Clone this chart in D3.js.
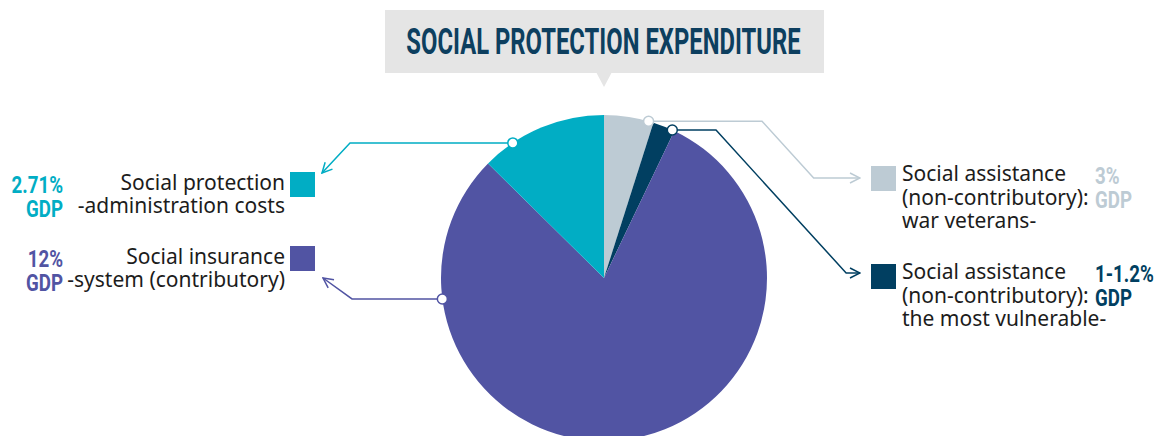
<!DOCTYPE html>
<html>
<head>
<meta charset="utf-8">
<script src="https://cdn.jsdelivr.net/npm/d3@7"></script>
<style>
  body { margin: 0; background: #fff; }
  svg { display: block; }
</style>
</head>
<body>
<svg id="chart"></svg>
<script>
const title = "SOCIAL PROTECTION EXPENDITURE";

// slices in clockwise order from 12 o'clock
const sliceNames = ["veterans", "vulnerable", "insurance", "administration"];
const sliceShares = [4.9, 2.2, 80.3, 12.6];
const gdpLines = [["3%", "GDP"], ["1-1.2%", "GDP"], ["12%", "GDP"], ["2.71%", "GDP"]];
const labelLines = [
    ["Social assistance", "(non-contributory):", "war veterans-"],
    ["Social assistance", "(non-contributory):", "the most vulnerable-"],
    ["Social insurance", "-system (contributory)"],
    ["Social protection", "-administration costs"]
];
const sliceColors = ["#bdcbd4", "#013f61", "#5154a3", "#01adc4"];

const width = 1173, height = 436;
const cx = 604, cy = 278, radius = 163;

// where each leader leaves the rim (fraction of slice), and its route
const leaders = [
    { at: 0.9,  elbowX: 762, tipX: 860, tipY: 178, side: "right" },
    { at: 0.9,  elbowX: 716, tipX: 860, tipY: 273, side: "right" },
    { at: 0.82, elbowX: 352, tipX: 323, tipY: 278, side: "left" },
    { at: 0.25, elbowX: 350, tipX: 322, tipY: 173, side: "left" }
];
const legendBoxes = [
    { x: 871, y: 166 }, { x: 871, y: 264 }, { x: 290, y: 246 }, { x: 290, y: 172 }
];

const svg = d3.select("#chart")
    .attr("width", width)
    .attr("height", height);

const defs = svg.append("defs");
sliceColors.forEach((c, i) => {
    defs.append("marker")
        .attr("id", "arrow" + i)
        .attr("viewBox", "0 0 12 12")
        .attr("refX", 11).attr("refY", 6)
        .attr("markerWidth", 12).attr("markerHeight", 12)
        .attr("markerUnits", "userSpaceOnUse")
        .attr("orient", "auto")
        .append("path")
        .attr("d", "M1,1 L11,6 L1,11")
        .attr("fill", "none")
        .attr("stroke", c)
        .attr("stroke-width", 1.5);
});

function condensed(parent, x, y, text, size, color, anchor, squeeze) {
    return parent.append("text")
        .attr("transform", `translate(${x},${y}) scale(${squeeze},1)`)
        .attr("text-anchor", anchor)
        .attr("font-family", "Roboto")
        .attr("font-weight", 700)
        .attr("font-size", size)
        .attr("fill", color)
        .text(text);
}

// title callout
svg.append("rect")
    .attr("x", 385).attr("y", 10)
    .attr("width", 439).attr("height", 63)
    .attr("fill", "#e5e5e5");
svg.append("path")
    .attr("d", `M${cx - 8},72 L${cx},87 L${cx + 8},72 Z`)
    .attr("fill", "#e5e5e5");
condensed(svg, 603.5, 53.5, title, 37.5, "#0d3f5f", "middle", 0.635);

// pie
const pie = d3.pie().sort(null).value(d => d);
const arcs = pie(sliceShares);
const arc = d3.arc().innerRadius(0).outerRadius(radius);

const g = svg.append("g").attr("transform", `translate(${cx},${cy})`);
g.selectAll("path.slice")
    .data(arcs)
    .enter().append("path")
    .attr("class", "slice")
    .attr("d", arc)
    .attr("fill", (d, i) => sliceColors[i]);

// leader lines
arcs.forEach((d, i) => {
    const L = leaders[i];
    const a = d.startAngle + (d.endAngle - d.startAngle) * L.at;
    const px = cx + radius * Math.sin(a);
    const py = cy - radius * Math.cos(a);
    let pts;
    if (L.side === "right") {
        pts = [[px, py], [L.elbowX, py], [L.elbowX + (L.tipY - py) * 0.91, L.tipY], [L.tipX, L.tipY]];
    } else {
        pts = [[px, py], [L.elbowX, py], [L.tipX, L.tipY]];
    }
    svg.append("path")
        .attr("d", d3.line()(pts))
        .attr("fill", "none")
        .attr("stroke", sliceColors[i])
        .attr("stroke-width", 1.5)
        .attr("marker-end", `url(#arrow${i})`);
    svg.append("circle")
        .attr("cx", px).attr("cy", py).attr("r", 5)
        .attr("fill", "#fff")
        .attr("stroke", sliceColors[i])
        .attr("stroke-width", 1.5);
});

// legend boxes and labels
legendBoxes.forEach((b, i) => {
    svg.append("rect")
        .attr("x", b.x).attr("y", b.y)
        .attr("width", 25).attr("height", 25)
        .attr("fill", sliceColors[i]);

    const right = b.x > cx;
    const lineH = right ? 23.5 : 22.7;
    const tx = right ? b.x + 31 : b.x - 5;
    const t = svg.append("text")
        .attr("font-family", "Noto Sans")
        .attr("font-size", 21)
        .attr("fill", "#1c1c1c")
        .attr("text-anchor", right ? "start" : "end");
    labelLines[i].forEach((line, j) => {
        t.append("tspan")
            .attr("x", tx)
            .attr("y", b.y + (right ? 15 : 18) + j * lineH)
            .text(line);
    });

    const gx = right ? 1095 : 63;
    gdpLines[i].forEach((line, j) => {
        condensed(svg, gx, b.y + (right ? 18 : 20.5) + j * 24, line, 24, sliceColors[i], right ? "start" : "end", 0.78);
    });
});
</script>
</body>
</html>
